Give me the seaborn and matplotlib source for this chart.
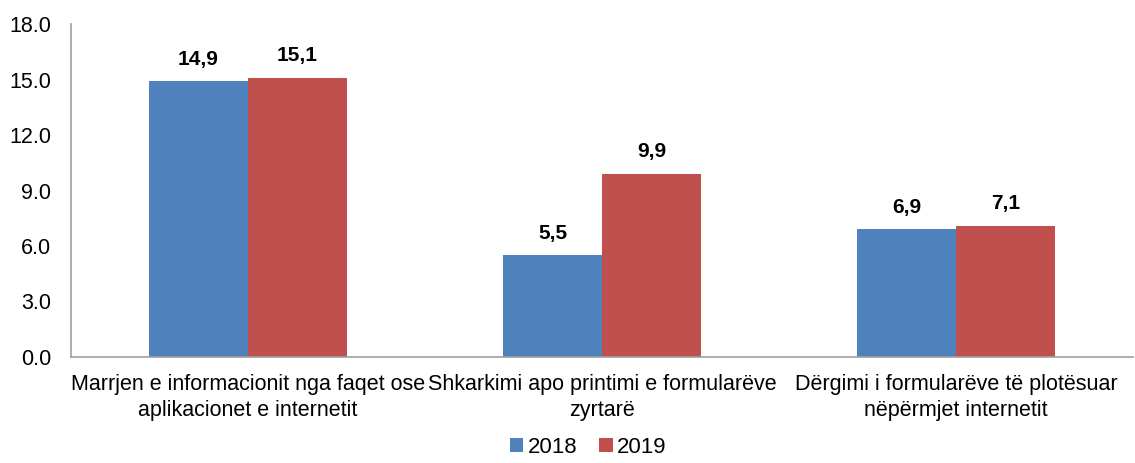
import matplotlib.pyplot as plt
import pandas as pd
import seaborn as sns

categories = [
    'Marrjen e informacionit nga faqet ose\naplikacionet e internetit',
    'Shkarkimi apo printimi e formularëve\nzyrtarë',
    'Dërgimi i formularëve të plotësuar\nnëpërmjet internetit',
]
years = ['2018', '2019']
values_2018 = [14.9, 5.5, 6.9]
values_2019 = [15.1, 9.9, 7.1]
colors = ['#4F81BD', '#C0504D']

df = pd.DataFrame({
    'category': categories * 2,
    'year': [years[0]] * 3 + [years[1]] * 3,
    'value': values_2018 + values_2019,
})

sns.set_style('white')
plt.rcParams['font.family'] = ['Liberation Sans', 'DejaVu Sans']
plt.rcParams['text.color'] = 'black'
plt.rcParams['xtick.color'] = 'black'
plt.rcParams['ytick.color'] = 'black'

fig = plt.figure(figsize=(11.35, 4.63), dpi=100)
ax = fig.add_axes([0.0625, 0.229, 0.936, 0.719])

sns.barplot(data=df, x='category', y='value', hue='year', palette=colors,
            width=0.56, saturation=1, linewidth=0, ax=ax, legend=True)

# value labels, comma decimal
for container in ax.containers:
    ax.bar_label(container, labels=[f'{v:.1f}'.replace('.', ',') for v in container.datavalues],
                 padding=9, fontsize=15, fontweight='bold', color='black')

ax.set_ylim(0, 18)
ax.set_yticks([0, 3, 6, 9, 12, 15, 18])
ax.set_yticklabels([f'{t:.1f}' for t in [0, 3, 6, 9, 12, 15, 18]], fontsize=15.5)
ax.set_xticks(range(3))
ax.set_xticklabels(categories, fontsize=15.5, linespacing=1.35)
ax.tick_params(axis='x', length=0, pad=12)
ax.tick_params(axis='y', length=0, pad=14)
ax.set_xlim(-0.5, 2.5)
ax.set_xlabel('')
ax.set_ylabel('')

sns.despine(ax=ax)
for s in ['left', 'bottom']:
    ax.spines[s].set_color('#A0A0A0')
    ax.spines[s].set_linewidth(1.2)

ax.legend(loc='center', bbox_to_anchor=(0.487, -0.272), ncol=2, frameon=False,
          fontsize=16, handlelength=0.6, handleheight=0.6, handletextpad=0.2,
          columnspacing=1.0, borderpad=0.1)

plt.savefig('out.png', dpi=100)
